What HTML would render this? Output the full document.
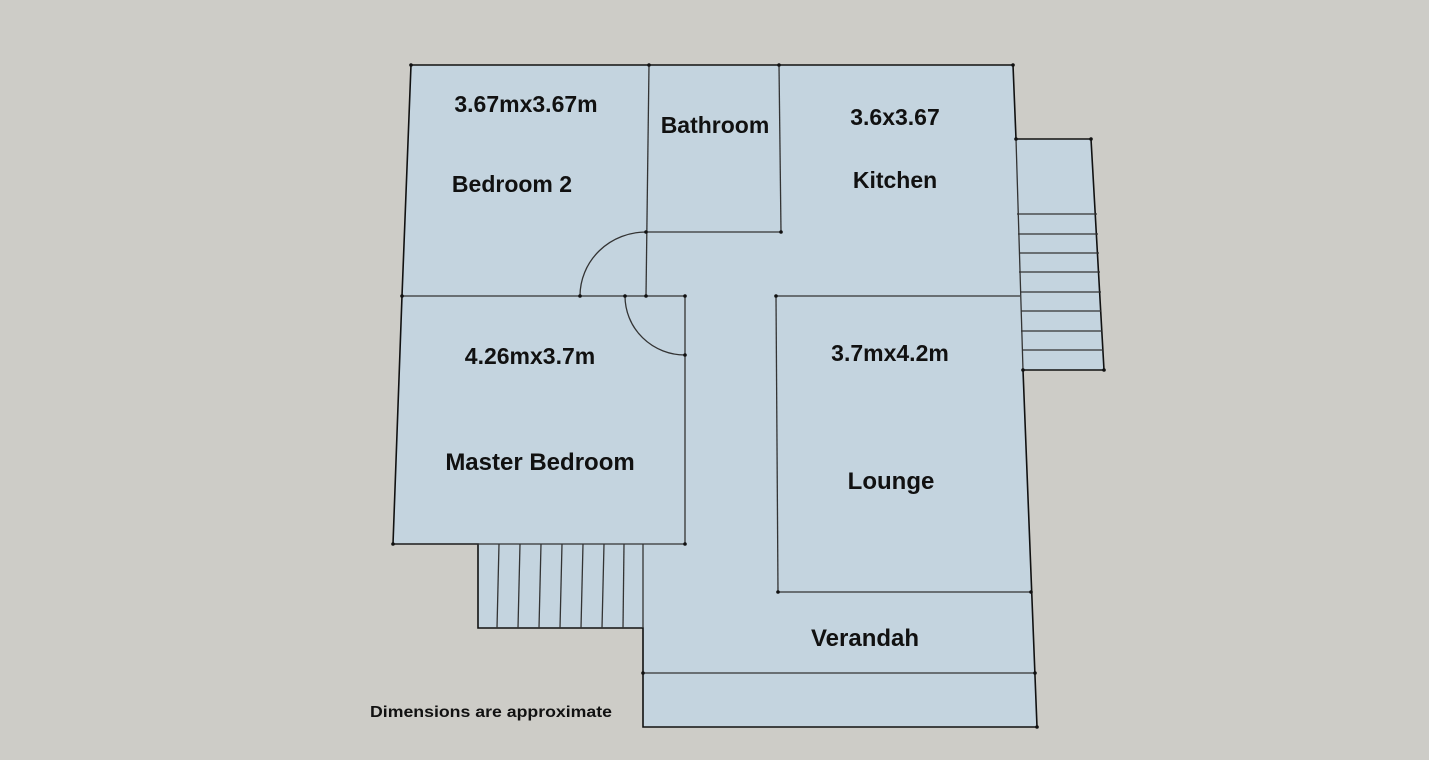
<!DOCTYPE html>
<html><head><meta charset="utf-8"><style>
html,body{margin:0;padding:0;background:#cdccc7;}
svg{display:block}
text{font-family:"Liberation Sans",sans-serif;font-weight:bold;fill:#111;text-anchor:middle}
</style></head><body>
<svg width="1429" height="760" viewBox="0 0 1429 760" xmlns="http://www.w3.org/2000/svg">
<rect width="1429" height="760" fill="#cdccc7"/>
<polygon points="411,65 1013,65 1016,139 1091,139 1104,370 1023,370 1037,727 643,727 643,628 478,628 478,544 393,544 402,296" fill="#c4d4df" stroke="#111" stroke-width="1.6"/>
<g stroke="#333" stroke-width="1.3" fill="none">
<line x1="1016" y1="139" x2="1023" y2="370"/>
<line x1="402" y1="296" x2="686" y2="296"/>
<line x1="649" y1="65" x2="646" y2="296"/>
<line x1="779" y1="65" x2="781" y2="232"/>
<line x1="646" y1="232" x2="781" y2="232"/>
<path d="M580,296 A66,64 0 0 1 646,232"/>
<line x1="685" y1="296" x2="685" y2="544"/>
<line x1="393" y1="544" x2="685" y2="544"/>
<path d="M625,296 A60,59 0 0 0 685,355"/>
<line x1="776" y1="296" x2="1020" y2="296"/>
<line x1="776" y1="296" x2="778" y2="592"/>
<line x1="778" y1="592" x2="1031" y2="592"/>
<line x1="643" y1="673" x2="1035" y2="673"/>
<line x1="643" y1="544" x2="643" y2="628"/>
<line x1="499" y1="544" x2="497" y2="628"/>
<line x1="520" y1="544" x2="518" y2="628"/>
<line x1="541" y1="544" x2="539" y2="628"/>
<line x1="562" y1="544" x2="560" y2="628"/>
<line x1="583" y1="544" x2="581" y2="628"/>
<line x1="604" y1="544" x2="602" y2="628"/>
<line x1="624" y1="544" x2="623" y2="628"/>
<line x1="1017" y1="214" x2="1097" y2="214"/>
<line x1="1018" y1="234" x2="1098" y2="234"/>
<line x1="1019" y1="253" x2="1099" y2="253"/>
<line x1="1019" y1="272" x2="1100" y2="272"/>
<line x1="1020" y1="292" x2="1101" y2="292"/>
<line x1="1021" y1="311" x2="1101" y2="311"/>
<line x1="1021" y1="331" x2="1102" y2="331"/>
<line x1="1022" y1="350" x2="1103" y2="350"/>
</g>
<g fill="#111">
<circle cx="411" cy="65" r="1.8"/><circle cx="649" cy="65" r="1.8"/><circle cx="779" cy="65" r="1.8"/><circle cx="1013" cy="65" r="1.8"/>
<circle cx="646" cy="232" r="1.8"/><circle cx="781" cy="232" r="1.8"/><circle cx="402" cy="296" r="1.8"/><circle cx="580" cy="296" r="1.8"/>
<circle cx="625" cy="296" r="1.8"/><circle cx="646" cy="296" r="1.8"/><circle cx="685" cy="296" r="1.8"/><circle cx="685" cy="355" r="1.8"/>
<circle cx="776" cy="296" r="1.8"/><circle cx="778" cy="592" r="1.8"/><circle cx="1031" cy="592" r="1.8"/><circle cx="393" cy="544" r="1.8"/>
<circle cx="685" cy="544" r="1.8"/><circle cx="643" cy="673" r="1.8"/><circle cx="1035" cy="673" r="1.8"/><circle cx="1037" cy="727" r="1.8"/>
<circle cx="1016" cy="139" r="1.8"/><circle cx="1091" cy="139" r="1.8"/><circle cx="1104" cy="370" r="1.8"/><circle cx="1023" cy="370" r="1.8"/>
</g>
<text x="526" y="112" font-size="23">3.67mx3.67m</text>
<text x="512" y="192" font-size="23">Bedroom 2</text>
<text x="715" y="133" font-size="23">Bathroom</text>
<text x="895" y="125" font-size="23">3.6x3.67</text>
<text x="895" y="188" font-size="23">Kitchen</text>
<text x="530" y="364" font-size="23">4.26mx3.7m</text>
<text x="540" y="470" font-size="24">Master Bedroom</text>
<text x="890" y="361" font-size="23">3.7mx4.2m</text>
<text x="891" y="489" font-size="24">Lounge</text>
<text x="865" y="646" font-size="24">Verandah</text>
<text x="491" y="717" font-size="16" textLength="242" lengthAdjust="spacingAndGlyphs">Dimensions are approximate</text>
</svg>
</body></html>
